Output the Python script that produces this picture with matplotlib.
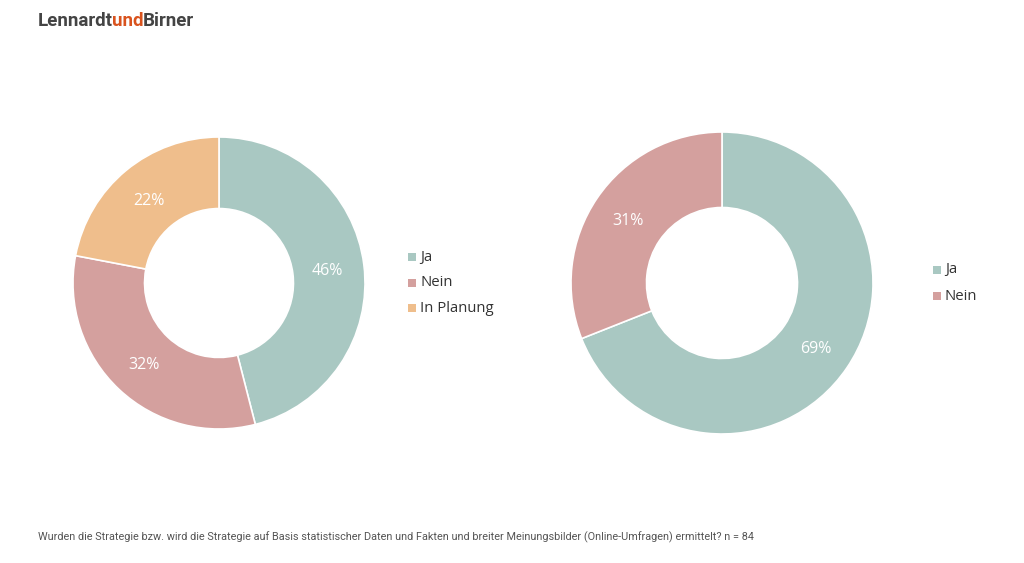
import matplotlib
matplotlib.use("Agg")
import matplotlib.pyplot as plt
from matplotlib.patches import Rectangle

left_labels = ["Ja", "Nein", "In Planung"]
left_values = [46, 32, 22]
right_labels = ["Ja", "Nein"]
right_values = [69, 31]

colors = {"Ja": "#a9c8c2", "Nein": "#d4a09e", "In Planung": "#efbe8c"}
footnote = ("Wurden die Strategie bzw. wird die Strategie auf Basis statistischer Daten und Fakten "
            "und breiter Meinungsbilder (Online-Umfragen) ermittelt? n = 84")

plt.rcParams['font.family'] = ['Open Sans', 'DejaVu Sans']

W, H = 1024, 563
fig = plt.figure(figsize=(W / 100, H / 100), dpi=100)
fig.patch.set_facecolor("white")


def donut(cx, cy, r, labels, values, inner):
    ax = fig.add_axes([(cx - r) / W, (H - cy - r) / H, 2 * r / W, 2 * r / H])
    ax.pie(
        values, colors=[colors[l] for l in labels], startangle=90, counterclock=False,
        radius=1, autopct=lambda p: f"{p:.0f}%", pctdistance=0.75,
        wedgeprops=dict(width=1 - inner, edgecolor="white", linewidth=1.2),
        textprops=dict(color="white", fontsize=11.5, va="center_baseline"))
    ax.set_xlim(-1, 1)
    ax.set_ylim(-1, 1)
    ax.set_aspect("equal")
    ax.axis("off")
    return ax


donut(219, 283, 146, left_labels, left_values, 0.51)
donut(722, 283, 151, right_labels, right_values, 0.50)


def legend(x, y0, labels, step):
    for i, l in enumerate(labels):
        y = y0 + i * step
        fig.patches.append(Rectangle(((x - 4) / W, (H - y - 4) / H), 8 / W, 8 / H,
                                     transform=fig.transFigure, facecolor=colors[l],
                                     edgecolor="none"))
        fig.text((x + 8) / W, (H - y) / H, l, fontsize=10.7, color="#333333",
                 va="center", ha="left")


legend(412, 257, left_labels, 25.5)
legend(937, 270, right_labels, 26)

fig.canvas.draw()
r = fig.canvas.get_renderer()

# Logo
parts = [("Lennardt", "#444444"), ("und", "#d9531e"), ("Birner", "#444444")]
x = 38
ly = (H - 21) / H
for s, c in parts:
    t = fig.text(x / W, ly, s, fontsize=13.5, fontweight="bold", color=c,
                 va="center", ha="left", family="Roboto")
    x = t.get_window_extent(r).x1 - 1.0

ft = fig.text(38 / W, (H - 537) / H, footnote, fontsize=8, color="#555555",
              va="center", ha="left", family="Roboto")
w = ft.get_window_extent(r).width
ft.set_fontsize(8 * 714 / w)

fig.savefig("out.png", dpi=100, facecolor="white")
